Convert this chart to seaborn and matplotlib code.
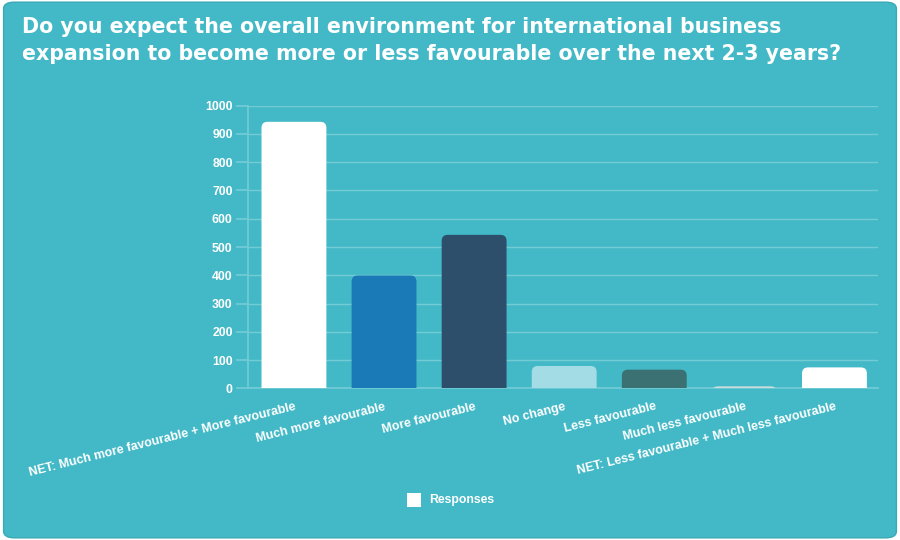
import matplotlib
matplotlib.use("Agg")
import matplotlib.pyplot as plt
import seaborn as sns
import pandas as pd
from matplotlib.patches import FancyBboxPatch, Rectangle

title = ("Do you expect the overall environment for international business\n"
         "expansion to become more or less favourable over the next 2-3 years?")
categories = [
    "NET: Much more favourable + More favourable",
    "Much more favourable",
    "More favourable",
    "No change",
    "Less favourable",
    "Much less favourable",
    "NET: Less favourable + Much less favourable",
]
responses = [943, 399, 543, 79, 66, 7, 74]
bar_colors = ["#ffffff", "#1a7ab7", "#2d4f6b", "#a3dce5", "#3b7172", "#c9dcde", "#ffffff"]
y_ticks = [0, 100, 200, 300, 400, 500, 600, 700, 800, 900, 1000]
legend_label = "Responses"

BG = "#43b9c7"

sns.set_theme(style="white")
plt.rcParams["font.family"] = ["Liberation Sans", "DejaVu Sans"]

fig = plt.figure(figsize=(9, 5.4), dpi=100)
fig.patch.set_facecolor("white")
frame = FancyBboxPatch((0.004, 0.004), 0.992, 0.992, boxstyle="round,pad=0,rounding_size=0.012",
                       transform=fig.transFigure, facecolor=BG, edgecolor="#3aa9b6",
                       linewidth=1.0, zorder=-10)
fig.patches.append(frame)

ax_l, ax_b, ax_w, ax_h = 248 / 900, 1 - 388.3 / 540, 629.7 / 900, 282.6 / 540
ax = fig.add_axes([ax_l, ax_b, ax_w, ax_h])
ax.set_facecolor("none")
ax.set_zorder(5)

df = pd.DataFrame({"category": categories, "value": responses})
sns.barplot(data=df, x="category", y="value", hue="category", palette=bar_colors,
            order=categories, hue_order=categories, legend=False, width=0.72, ax=ax,
            saturation=1)

ax.set_ylim(0, 1000)
ax.set_xlim(-0.51, 6.48)

# rounded tops
x_per_px = (6.48 + 0.51) / (ax_w * 900)
y_per_px = 1000 / (ax_h * 540)
aspect = y_per_px / x_per_px
for p in list(ax.patches):
    x, w, h = p.get_x(), p.get_width(), p.get_height()
    fc = p.get_facecolor()
    p.set_visible(False)
    rb = FancyBboxPatch((x, -40), w, h + 40,
                        boxstyle="round,pad=0,rounding_size=%f" % (6 * x_per_px),
                        mutation_aspect=aspect, facecolor=fc, edgecolor="none", zorder=3)
    ax.add_patch(rb)

ax.set_yticks(y_ticks)
ax.set_yticklabels([str(t) for t in y_ticks], fontsize=8.8, fontweight="bold", color="white")
ax.yaxis.grid(True, color="#73cbd5", linewidth=1.0)
ax.set_axisbelow(True)
for s in ["top", "right"]:
    ax.spines[s].set_visible(False)
ax.spines["left"].set_color("#73cbd5")
ax.spines["bottom"].set_color("#73cbd5")
ax.tick_params(axis="y", length=9, color="#73cbd5", pad=2, left=True)
ax.tick_params(axis="x", length=0, pad=9)
ax.set_xlabel("")
ax.set_ylabel("")
ax.set_xticks(range(len(categories)))
ax.set_xticklabels(categories, rotation=14, ha="right", rotation_mode="anchor",
                   fontsize=8.9, fontweight="bold", color="white")

fig.text(0.025, 0.968, title, ha="left", va="top", fontsize=14.8, fontweight="bold",
         color="white", family=["DejaVu Sans"], linespacing=1.4)

# legend
fig.patches.append(Rectangle((407 / 900, 1 - 507 / 540), 14 / 900, 14 / 540,
                             transform=fig.transFigure, facecolor="white", edgecolor="none"))
fig.text(429 / 900, 1 - 500 / 540, legend_label, ha="left", va="center", fontsize=8.8,
         fontweight="bold", color="white")

fig.savefig("out.png", dpi=100, facecolor=fig.get_facecolor())
